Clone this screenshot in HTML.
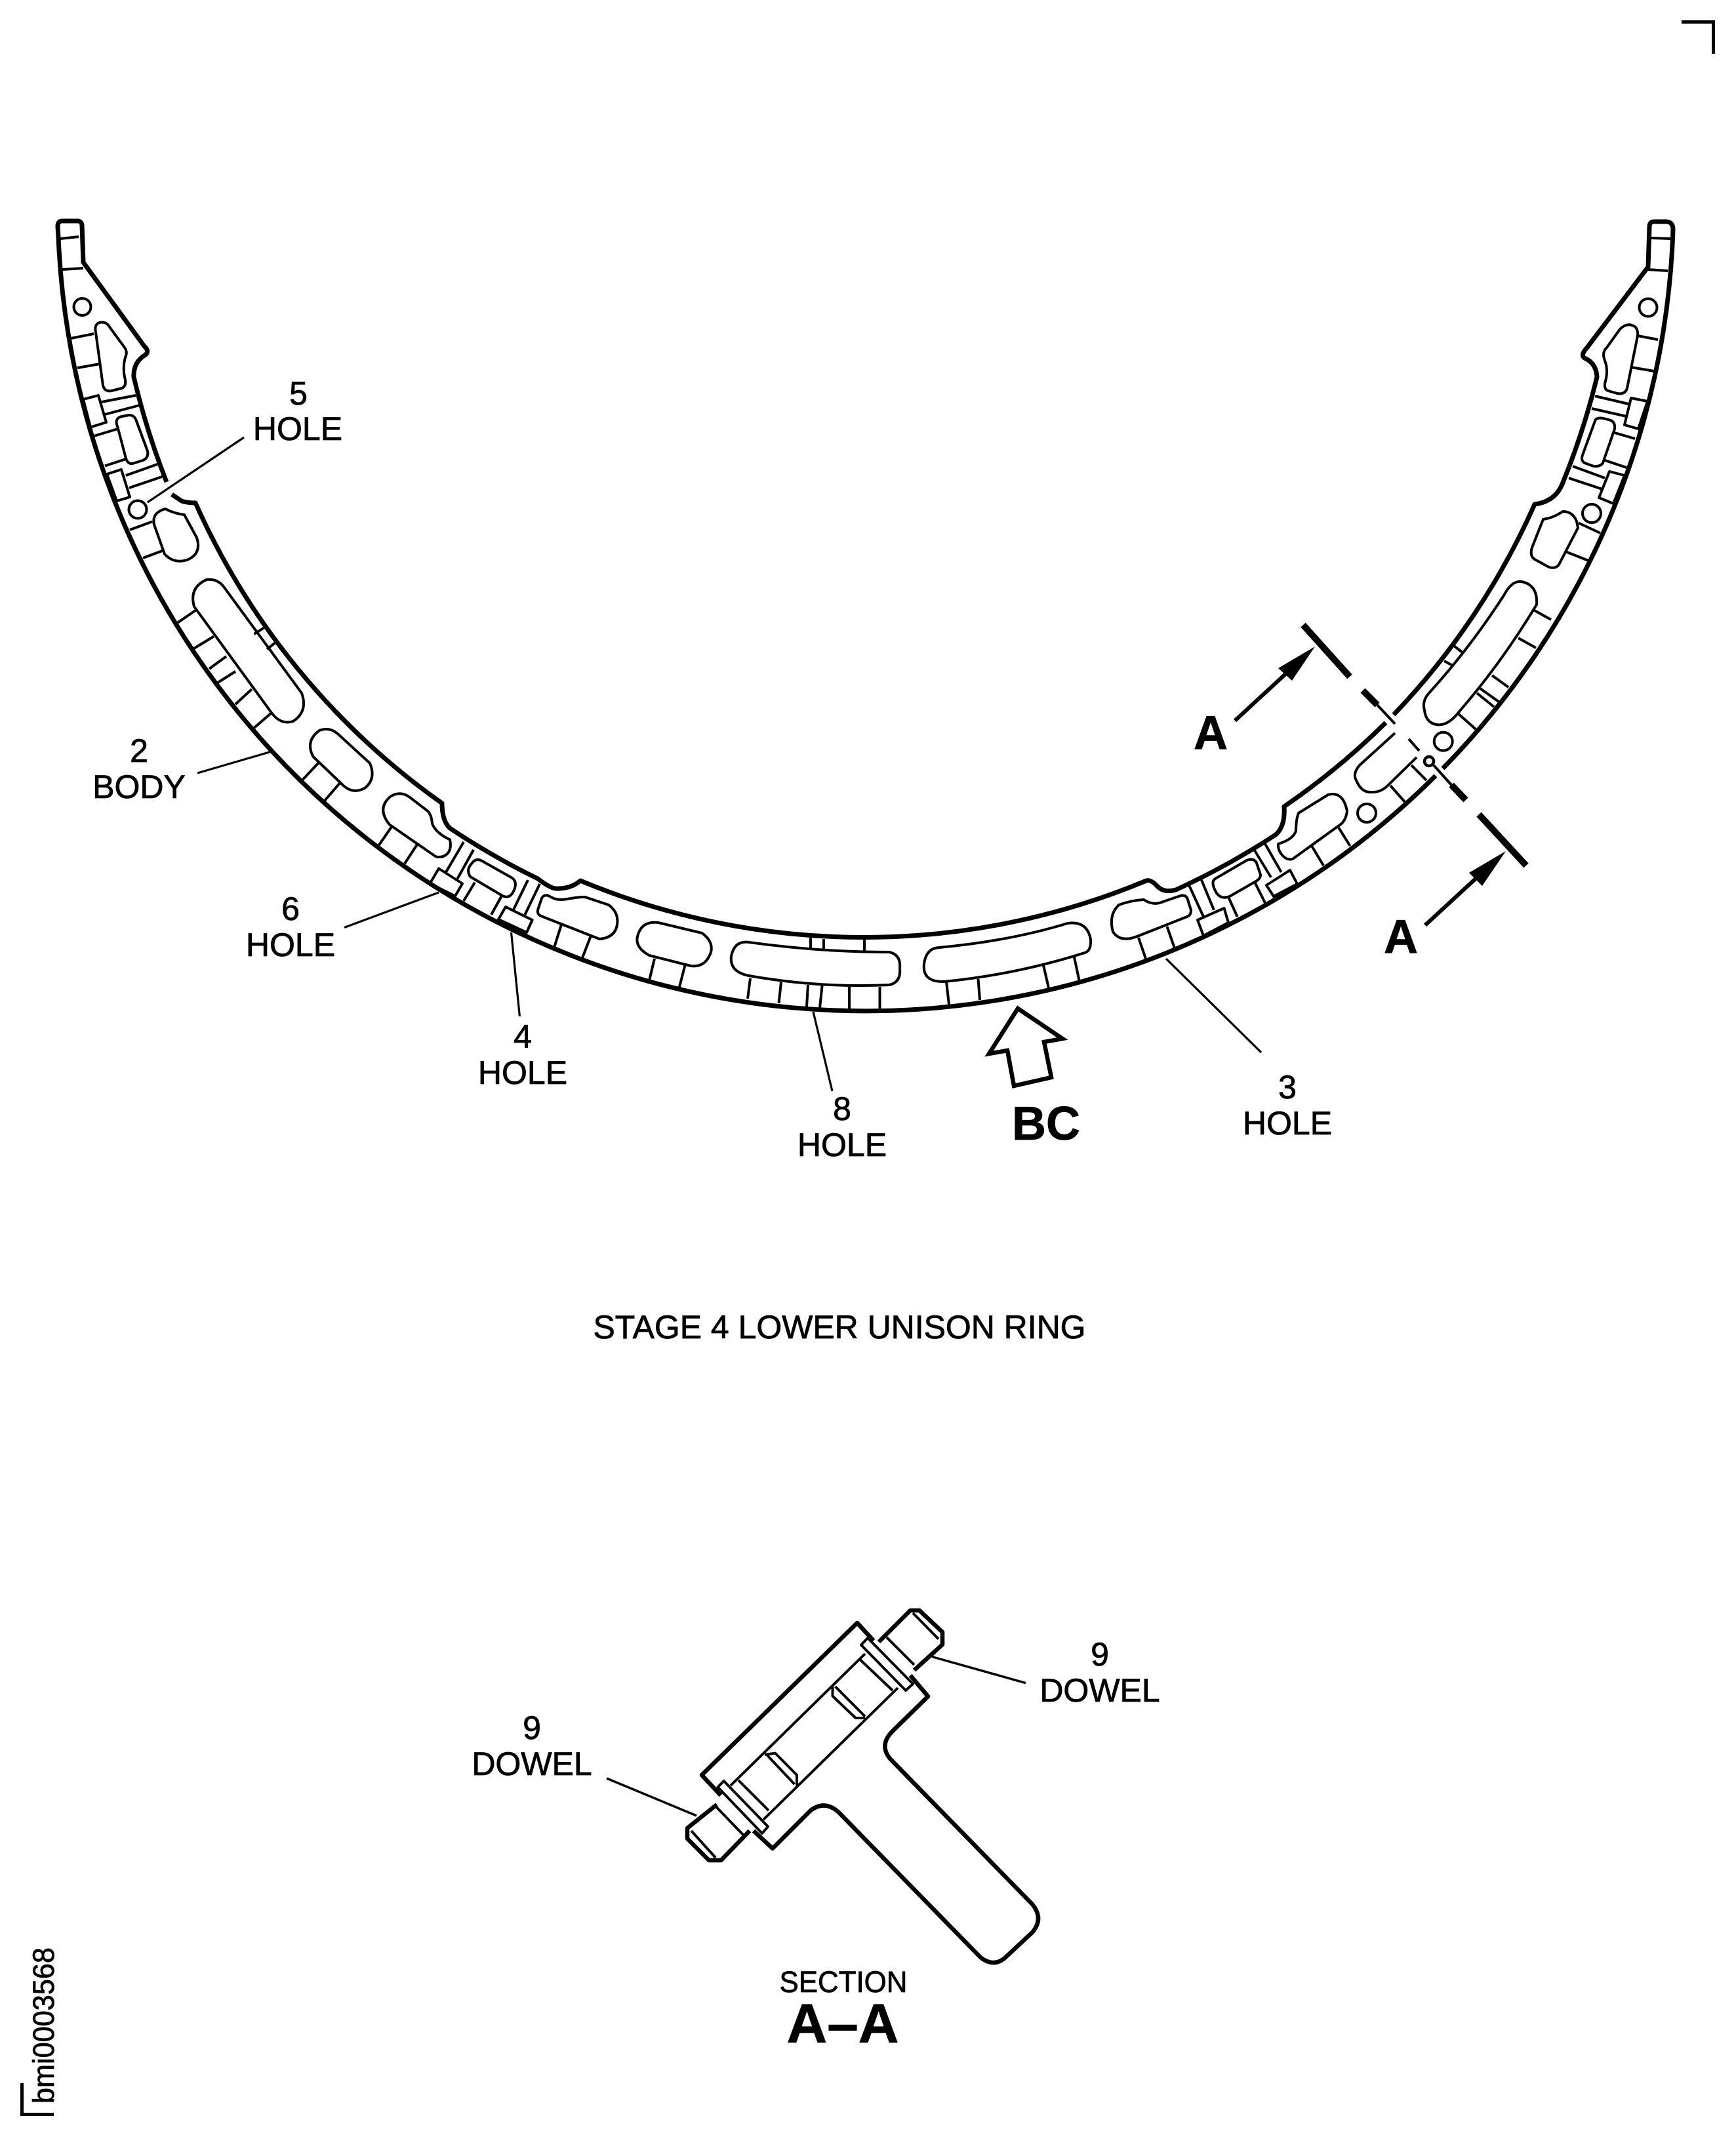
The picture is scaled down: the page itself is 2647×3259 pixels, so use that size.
<!DOCTYPE html>
<html><head><meta charset="utf-8"><title>Stage 4 Lower Unison Ring</title>
<style>
html,body{margin:0;padding:0;background:#fff}
svg{display:block}
.m{fill:none;stroke:#000;stroke-width:7;stroke-linejoin:round;stroke-linecap:butt}
.t{fill:none;stroke:#000;stroke-width:4;stroke-linejoin:round;stroke-linecap:butt}
.l{fill:none;stroke:#000;stroke-width:3.2}
.k{fill:none;stroke:#000;stroke-width:10}
text{font-family:"Liberation Sans",sans-serif;fill:#000;text-anchor:middle;stroke:#000;stroke-width:.8}
.f{font-size:50px}
.b{font-size:72px;font-weight:bold}
</style></head><body>
<svg xmlns="http://www.w3.org/2000/svg" width="2647" height="3259" viewBox="0 0 2647 3259">
<rect width="2647" height="3259" fill="#fff"/>
<!-- corner marks -->
<path d="M2564,33.5H2612.5V82" fill="none" stroke="#000" stroke-width="5"/>
<path d="M33.5,3177V3224.5H82" fill="none" stroke="#000" stroke-width="5"/>

<!-- ring edges -->
<path class="m" d="M89,362 A1232,1232 0 0 0 2189,1183"/>
<path class="m" d="M2200,1172 A1232,1232 0 0 0 2551,350 Q2551,338 2540,338 L2522,338 Q2515,338 2515,346 L2513,407 L2420,530 Q2408,543 2418,547 Q2434,555 2435,575 A1146,1146 0 0 1 2383,736 Q2372,765 2340,769 A1120,1120 0 0 1 2125,1090"/>
<path class="m" d="M2113,1102 A1120,1120 0 0 1 1958,1230 Q1960,1260 1945,1273 A1148,1148 0 0 1 1793,1357 Q1775,1362 1765,1352 Q1755,1341 1748,1343 A1120,1120 0 0 1 885,1343 Q870,1356 847,1355 Q838,1354 820,1340 A1145,1145 0 0 1 686,1263 Q674,1252 674,1225 A1120,1120 0 0 1 298,767 Q285,767 277,764 L262,754"/>
<path class="m" d="M254,735 A1147,1147 0 0 1 204,575 Q203,552 222,541 Q228,535 220,528 L127,400 L125,343 Q124,337 118,337 L95,337 Q88,337 88,345 L89,362"/>
<!-- tab lines -->
<path class="t" d="M92,364L120,361M95,411L127,409M2518,363L2547,364M2513,411L2543,413"/>

<!-- left details -->
<circle class="t" cx="125.500" cy="468" r="13"/>
<path class="t" d="M146,507 Q143,492 155,491.500 Q163,491 168,500 L190,530 Q195,537 191,545 Q187,560 190,575 Q194,588 186,592 L170,596 Q160,598 157,588 Z"/>
<path class="t" d="M108,516L143,509M118,561L152,555"/>
<polygon class="t" points="127,609 150,603 162,644 138,651.500"/>
<path class="t" d="M155,613L207,603M160,632L213,618"/>
<path class="t" d="M179,650 Q174,638 186,635 L197,633 Q205,633 208,642 L225,688 Q227,698 218,702 L202,707 Q195,708 192,699 Z"/>
<path class="t" d="M143,665L178,654.500M160,710.500L192,700"/>
<polygon class="t" points="163,723 185,716 198,758 178,764"/>
<path class="t" d="M192,725L240,708M197,744L247,727"/>
<circle class="t" cx="210" cy="777" r="13.500"/>
<path class="t" d="M235,800 Q231,782 252,776 Q265,783 281,785 L300,820 Q308,845 285,854 Q265,860 251,845 Z"/>
<path class="t" d="M198,808L232,795.500M218,851L250,839"/>
<path class="t" d="M296,925 Q288,896 315,884 Q332,882 342,896 L460,1057 Q470,1085 447,1100 Q428,1106 414,1087 Z"/>
<path class="t" d="M271,949.500L299.500,930M294,990L326,970.500M319,1020L345,1001M332,1041L359,1024M359,1074L384,1051M387.500,1110L414,1087M387.500,967L403,957M407,990L420,980"/>
<path class="t" d="M477.500,1154 Q465,1130 487,1114 Q503,1108 516,1120 L564,1164 Q574,1188 556,1202 Q537,1212 521.500,1196 Z"/>
<path class="t" d="M460,1190.600L487,1162M495,1221L518,1194.400"/>
<path class="t" d="M594,1257.600 Q574,1233 595,1215 Q610,1205 625,1216 L651.600,1236.500 Q658,1242 659,1256 Q664,1270 686,1280.500 Q690,1300 676,1306 Q668,1308 664,1306 Z"/>
<path class="t" d="M577,1290L598,1259.500M617,1317L636,1288"/>
<polygon class="t" points="655.500,1347.500 669,1324.500 705,1347.500 694,1366.600"/>
<path class="t" d="M680,1330L707,1284M697.500,1340L722,1296"/>
<path class="t" d="M717,1337 Q710,1326 720,1316 Q726,1308 735,1313 L781,1339 Q789,1345 784,1357 Q778,1372 766,1366 Z"/>
<path class="t" d="M707,1374L724,1345.600M749,1395L764.500,1367"/>
<polygon class="t" points="760,1402 771,1383 811.600,1403 803,1422"/>
<path class="t" d="M782.600,1388L805,1342M800.400,1395L823,1348"/>
<path class="t" d="M825,1397 Q818,1394 820.500,1386 L826,1370 Q830,1362 840,1368 Q850,1374 865,1371 Q882,1368 892,1368 L928,1380 Q944,1392 941,1410 Q938,1430 914,1432 Z"/>
<path class="t" d="M845,1445L856,1410M887.500,1462L901,1427"/>
<path class="t" d="M990,1457 Q968,1445 972,1428 Q978,1404 1003.600,1407 L1070.500,1423 Q1088,1436 1084,1452 Q1076,1476 1053,1473 Z"/>
<path class="t" d="M990,1495L998,1462M1036,1505L1045,1470"/>
<path class="t" d="M1142,1488 Q1112,1482 1115,1458 Q1120,1434 1142,1437 Q1250,1452 1356,1452 Q1374,1456 1372,1477 Q1374,1498 1356,1502 Q1250,1507 1142,1488 Z"/>
<path class="t" d="M1140,1523L1144,1492M1187.500,1530L1191,1498M1230,1535L1232,1502M1250,1537L1253.600,1503M1295,1538L1295,1505M1341.500,1538L1341.500,1505M1236,1430L1236,1448M1256,1432L1256,1448M1318,1433L1318,1450"/>

<!-- right details -->
<path class="t" d="M1440,1497 Q1406,1498 1409,1470 Q1412,1446 1432,1445 Q1540,1435 1628,1408 Q1658,1404 1663,1433 Q1664,1450 1654,1453 Q1550,1486 1440,1497 Z"/>
<path class="t" d="M1447,1532L1443,1497M1494,1525L1491.500,1493M1599,1507L1591,1472M1645.500,1495L1638,1460"/>
<path class="t" d="M1697,1421 Q1690,1395 1706,1380 Q1725,1373 1744,1372 Q1756,1380 1768,1377 L1800,1366 Q1809,1364 1811,1372 L1816,1388 Q1816,1396 1810,1398 L1734,1428 Q1708,1438 1697,1421 Z"/>
<path class="t" d="M1747,1462L1736,1430M1790.600,1445L1779.500,1413"/>
<polygon class="t" points="1826,1403 1866.500,1385 1873,1407 1835,1427"/>
<path class="t" d="M1835,1398L1813,1350M1851,1388L1832,1342"/>
<path class="t" d="M1855,1362 Q1845,1345 1853,1340 L1901,1312 Q1912,1308 1916,1316 L1922,1334 Q1922,1340 1915,1344 L1875,1367 Q1862,1372 1855,1362 Z"/>
<path class="t" d="M1886.600,1398L1873,1368M1929,1377L1913,1345"/>
<polygon class="t" points="1931,1350 1967,1327 1978,1348 1942,1367"/>
<path class="t" d="M1938,1338L1913,1297M1953.600,1330L1929,1287"/>
<path class="t" d="M1958,1307 Q1948,1298 1949,1287 Q1972,1280 1976,1267 Q1976,1250 1980,1240 L2025,1212 Q2048,1206 2054,1237 Q2052,1252 2043,1258 L1971,1310 Q1964,1312 1958,1307 Z"/>
<path class="t" d="M2018,1320L2000,1290M2058.500,1290L2041,1262"/>
<circle class="t" cx="2084" cy="1240" r="14"/>
<circle class="t" cx="2200.700" cy="1130.700" r="14"/>
<circle cx="2179" cy="1161" r="7" fill="none" stroke="#000" stroke-width="4.500"/>
<path class="t" d="M2127,1118 L2073,1167 Q2062,1180 2068,1190 Q2076,1210 2093,1208 Q2106,1208 2116,1198 L2160,1155"/>
<path class="t" d="M2120,1198L2142,1223M2152,1167L2175,1190M2148,1127L2164,1145"/>
<path class="t" d="M2172,1083 Q2168,1070 2178,1058 Q2240,990 2293,908 Q2305,885 2320,887 Q2345,892 2343,922 Q2290,1010 2226,1084 Q2208,1108 2190,1105 Q2174,1102 2172,1083 Z"/>
<path class="t" d="M2223,1088L2250,1112M2257,1050L2285,1070M2252,1057L2278,1078M2275,1030L2300,1048M2315,973L2342,988M2338,930L2365,945M2217,985L2230,995M2202,1008L2215,1015"/>
<circle class="t" cx="2513" cy="469" r="13.500"/>
<path class="t" d="M2450,530 L2470,502 Q2482,490 2494,499 Q2498,505 2497,512 L2481,592 Q2478,602 2466,600 L2452,596 Q2446,594 2447,585 Q2453,565 2447,550 Q2442,537 2450,530 Z"/>
<path class="t" d="M2497,512L2528,518M2487,560L2522,566"/>
<polygon class="t" points="2487,607 2512,612 2498,654 2477,648"/>
<path class="t" d="M2432,604L2483,616M2427,623L2480,635"/>
<path class="t" d="M2432,642 Q2434,636 2445,638 L2456,641 Q2463,644 2462,654 L2444,706 Q2440,712 2430,711 L2416,706 Q2410,702 2413,694 Z"/>
<path class="t" d="M2462,660L2493,669M2447,702L2480,713"/>
<polygon class="t" points="2454,719 2477,725 2460,768 2438,759"/>
<path class="t" d="M2398,711L2447,729M2392,729L2443,746"/>
<circle class="t" cx="2427" cy="783" r="14"/>
<path class="t" d="M2353,792 Q2368,790 2383,780 Q2398,780 2404,795 L2406,805 L2377,861 Q2372,868 2362,865 L2340,853 Q2332,848 2336,835 Z"/>
<path class="t" d="M2407,797.500L2440,813M2388,841.500L2422,855"/>

<!-- section line A-A -->
<path class="k" d="M1987,953L2058,1032M2078,1053L2100,1075M2213,1197L2235,1220M2255,1242L2327,1320"/>
<path class="l" d="M2100,1075L2127,1104M2186,1167L2213,1197" style="stroke-width:4"/>
<path d="M1883,1099L1960,1028" fill="none" stroke="#000" stroke-width="6"/>
<polygon points="2005,986 1949,1019 1970,1038"/>
<path d="M2173,1411L2250,1340" fill="none" stroke="#000" stroke-width="6"/>
<polygon points="2296,1298 2240,1331 2260,1351"/>
<text class="b" x="1846" y="1142">A</text>
<text class="b" x="2136" y="1453">A</text>

<!-- leaders -->
<path class="l" d="M225,766L372,667M301,1179L412,1146.600M525,1414.500L669,1361M779.500,1422L792.400,1550M1240,1543L1269,1664M1778,1462L1923,1605"/>

<!-- BC arrow -->
<polygon points="1552,1538 1620,1584 1592,1589 1603,1643 1546,1656 1536,1602 1508,1607" fill="none" stroke="#000" stroke-width="6.500" stroke-linejoin="miter"/>
<text class="b" x="1595" y="1738">BC</text>

<!-- labels -->
<text class="f" x="455" y="617">5</text><text class="f" x="454" y="671">HOLE</text>
<text class="f" x="212" y="1162">2</text><text class="f" x="212" y="1217">BODY</text>
<text class="f" x="443" y="1403">6</text><text class="f" x="443" y="1458">HOLE</text>
<text class="f" x="797" y="1598">4</text><text class="f" x="797" y="1653">HOLE</text>
<text class="f" x="1284" y="1708">8</text><text class="f" x="1284" y="1763">HOLE</text>
<text class="f" x="1963" y="1675">3</text><text class="f" x="1963" y="1730">HOLE</text>
<text class="f" x="1280" y="2041" textLength="751" lengthAdjust="spacingAndGlyphs">STAGE 4 LOWER UNISON RING</text>
<text class="f" x="1677" y="2540">9</text><text class="f" x="1677" y="2595">DOWEL</text>
<text class="f" x="811" y="2652">9</text><text class="f" x="811" y="2707">DOWEL</text>
<text x="1286" y="3038" font-size="45" textLength="195" lengthAdjust="spacingAndGlyphs">SECTION</text>
<text x="1285" y="3115" font-size="84" font-weight="bold" textLength="171" lengthAdjust="spacingAndGlyphs">A–A</text>
<text font-size="45" transform="translate(82,3208) rotate(-90)" style="text-anchor:start" textLength="238" lengthAdjust="spacingAndGlyphs">bmi0003568</text>

<!-- section view -->
<path d="M1332,2502L1307,2475L1070,2707L1099,2738M1388,2555L1415,2587L1361,2640Q1340,2661 1357,2682L1574,2904Q1592,2926 1574,2947L1531,2987Q1514,3000 1495,2985L1278,2763Q1257,2745 1236,2761L1178,2819L1149,2792" fill="none" stroke="#000" stroke-width="6.500" stroke-linejoin="round"/>
<path d="M1340,2504L1388,2456L1402,2456L1437,2489L1437,2508L1394,2547" fill="none" stroke="#000" stroke-width="6.500" stroke-linejoin="round"/>
<path d="M1093,2752L1048,2788L1048,2804L1081,2837L1099.500,2837L1143,2792" fill="none" stroke="#000" stroke-width="6.500" stroke-linejoin="round"/>
<polygon class="t" points="1313,2508.600 1323,2498 1392,2568 1381,2578"/>
<polygon class="t" points="1094.500,2725.500 1103.600,2716 1171,2785.600 1162,2796"/>
<path class="t" d="M1392,2460L1431,2499.500M1352,2497L1394,2539M1311,2530.600L1361,2578M1319,2522L1114,2723M1369,2574L1164,2775M1126,2715L1172,2761M1054,2792L1091,2833M1091,2754.500L1133,2798"/>
<path class="t" d="M1273.600,2572L1319,2617.700M1269.500,2572V2586.600L1304.700,2620H1319M1166,2676L1182,2673.600L1215,2707V2723M1170,2677L1211.400,2721"/>
<path class="l" d="M925,2712L1062,2769M1421,2526.500L1564,2566.700" style="stroke-width:3.500"/>
</svg>
</body></html>
